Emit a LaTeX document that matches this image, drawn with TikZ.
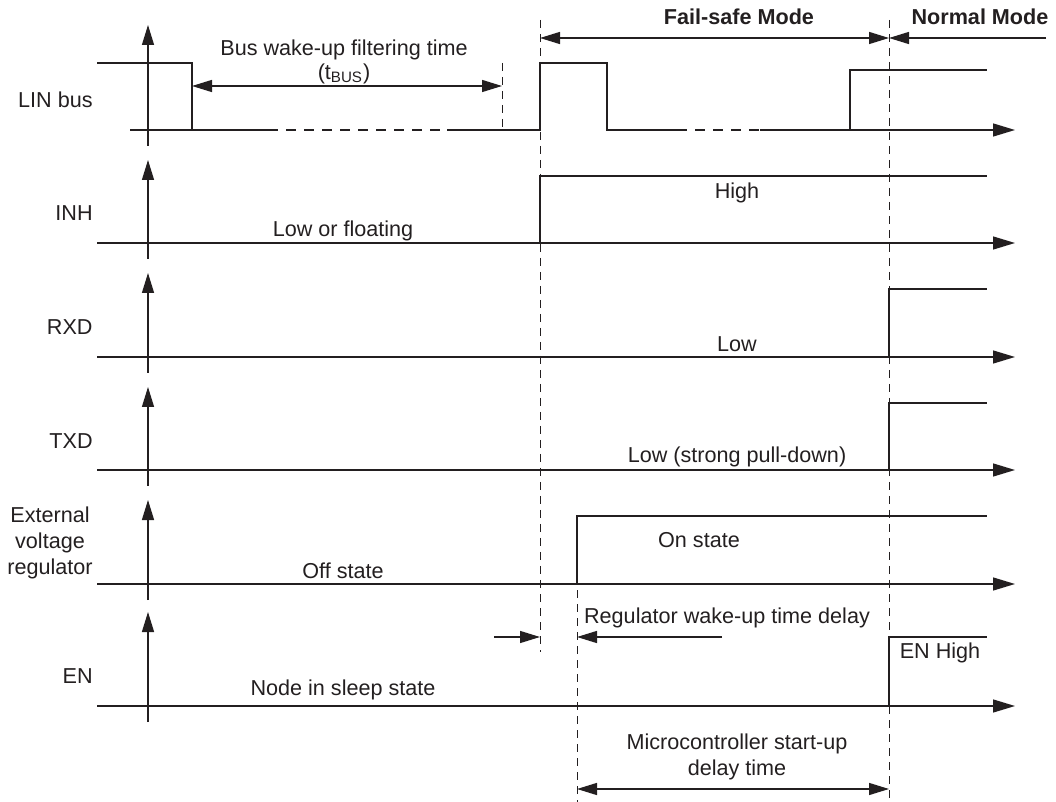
\documentclass[tikz,border=0pt]{standalone}
\usepackage{fontspec}
\setmainfont{Liberation Sans}
\usetikzlibrary{arrows.meta,calc,positioning}
\definecolor{ink}{HTML}{231F20}
\tikzset{
  sig/.style={line width=1.4pt,color=ink},
  sigdash/.style={line width=1.4pt,color=ink,dash pattern=on 5pt off 4pt},
  timeaxis/.style={line width=0.7pt,color=ink,-{Triangle[length=11pt,width=6.5pt]}},
  levelaxis/.style={line width=0.7pt,color=ink,-{Triangle[length=10pt,width=6pt]}},
  guide/.style={line width=0.5pt,color=ink,dash pattern=on 4pt off 3pt},
  span/.style={line width=0.7pt,color=ink,{Triangle[length=10pt,width=6pt]}-{Triangle[length=10pt,width=6pt]}},
  halfspan/.style={line width=0.7pt,color=ink,-{Triangle[length=10pt,width=6pt]}},
  lbl/.style={font=\fontsize{10.8}{12.8}\selectfont,text=ink,inner sep=0pt},
  hdr/.style={font=\fontsize{10.8}{12.8}\selectfont\bfseries,text=ink,inner sep=0pt}
}
\begin{document}
\begin{tikzpicture}[x=0.5pt,y=-0.5pt]
		\useasboundingbox (0,0) rectangle (1056,802);

		% Level axes and signal names
		\foreach \n/\b/\t/\lab/\ly in {lin/130/25/LIN bus/100,inh/243/160/INH/213,rxd/357/273/RXD/327,txd/470/387/TXD/441,ext/584/500//0,en/706/612/EN/676}{
			\draw[levelaxis] (148,{\b+16}) -- (148,\t);
			\node[lbl,anchor=east] (name-\n) at (93,\ly) {\lab};
		}
		\node[lbl,align=center] (name-reg) at (50,543) {External\\voltage\\regulator};

		% Time axes
		\draw[line width=0.7pt,color=ink] (130,130) -- (192,130);
		\draw[timeaxis] (850,130) -- (1015,130);
		\foreach \b in {243,357,470,584,706}
			\draw[timeaxis] (148,\b) -- (1015,\b);

		% Guide lines
		\coordinate (wake-top) at (540,20);
		\coordinate (wake-bot) at (540,652);
		\coordinate (mode-top) at (889,20);
		\coordinate (mode-bot) at (889,802);
		\coordinate (reg-top) at (577,590);
		\coordinate (reg-bot) at (577,802);
		\coordinate (tbus-top) at (502,63);
		\coordinate (tbus-bot) at (502,130);
		\draw[guide] (wake-top) -- (wake-bot);
		\draw[guide] (mode-top) -- (mode-bot);
		\draw[guide] (reg-top) -- (reg-bot);
		\draw[guide] (tbus-top) -- (tbus-bot);

		% Signals
		\draw[sig] (97,63) -- (192,63) -- (192,130) -- (268,130);
		\draw[sigdash] (268,130) -- (447,130);
		\draw[sig] (447,130) -- (540,130) -- (540,63) -- (607,63) -- (607,130) -- (677,130);
		\draw[sigdash] (677,130) -- (760,130);
		\draw[sig] (760,130) -- (850,130) -- (850,70) -- (987,70);
		\draw[sig] (97,243) -- (540,243) -- (540,176) -- (987,176);
		\draw[sig] (97,357) -- (889,357) -- (889,289) -- (987,289);
		\draw[sig] (97,470) -- (889,470) -- (889,403) -- (987,403);
		\draw[sig] (97,584) -- (577,584) -- (577,516) -- (987,516);
		\draw[sig] (97,706) -- (889,706) -- (889,637) -- (987,637);

		% Modes
		\node[hdr] (failsafe) at (739,17) {Fail-safe Mode};
		\node[hdr] (normal) at (980,17) {Normal Mode};
		\coordinate (mode-a) at (540,38);
		\coordinate (mode-b) at (889,38);
		\coordinate (mode-c) at (1046,38);
		\draw[span] (mode-a) -- (mode-b);
		\draw[halfspan] (mode-c) -- (mode-b);

		% Bus wake-up filtering time
		\node[lbl] (tbus-text) at (344,50) {Bus wake-up filtering time};
		\node[lbl] (tbus-sym) at (344,74) {(t\textsubscript{BUS})};
		\coordinate (tbus-a) at (192,86);
		\coordinate (tbus-b) at (502,86);
		\draw[span] (tbus-a) -- (tbus-b);

		% Levels
		\node[lbl] (inh-low) at (343,231) {Low or floating};
		\node[lbl] (inh-high) at (737,193) {High};
		\node[lbl] (rxd-low) at (737,344) {Low};
		\node[lbl] (txd-low) at (737,457) {Low (strong pull-down)};
		\node[lbl] (reg-off) at (343,571) {Off state};
		\node[lbl] (reg-on) at (699,540) {On state};
		\node[lbl] (en-sleep) at (343,690) {Node in sleep state};
		\node[lbl] (en-high) at (940,653) {EN High};

		% Regulator wake-up time delay
		\node[lbl] (reg-delay) at (727,618) {Regulator wake-up time delay};
		\coordinate (rd-a) at (494,637);
		\coordinate (rd-b) at (540,637);
		\coordinate (rd-c) at (722,637);
		\coordinate (rd-d) at (577,637);
		\draw[halfspan] (rd-a) -- (rd-b);
		\draw[halfspan] (rd-c) -- (rd-d);

		% Microcontroller start-up delay
		\node[lbl,align=center] (mcu-delay) at (737,757) {Microcontroller start-up\\delay time};
		\coordinate (mcu-a) at (577,789);
		\coordinate (mcu-b) at (889,789);
		\draw[span] (mcu-a) -- (mcu-b);
	\end{tikzpicture}
\end{document}
